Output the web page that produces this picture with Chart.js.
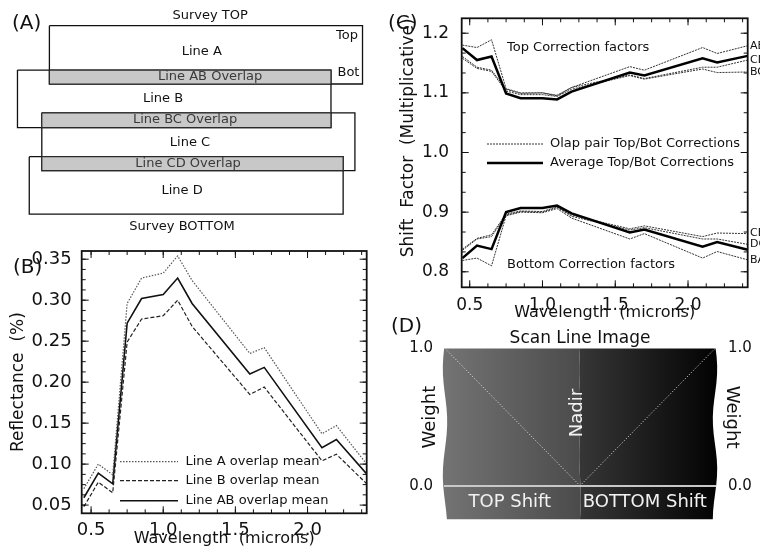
<!DOCTYPE html>
<html><head><meta charset="utf-8">
<script src="https://cdn.jsdelivr.net/npm/chart.js@4.4.1/dist/chart.umd.min.js"></script>
<style>
html,body{margin:0;padding:0;background:#fff;}
body{width:760px;height:552px;position:relative;overflow:hidden;font-family:'DejaVu Sans',sans-serif;}
canvas{position:absolute;}
.plabel{position:absolute;font-size:20px;line-height:20px;color:#111;white-space:nowrap;}
</style></head><body>
<canvas id="cA" width="380" height="240" style="left:0;top:0"></canvas>
<canvas id="cB" width="380" height="312" style="left:0;top:240px"></canvas>
<canvas id="cC" width="380" height="325" style="left:380px;top:0"></canvas>
<canvas id="cD" width="360" height="242" style="left:400px;top:310px"></canvas>
<div class="plabel" style="left:12px;top:12px">(A)</div>
<div class="plabel" style="left:13px;top:256px">(B)</div>
<div class="plabel" style="left:388px;top:12px">(C)</div>
<div class="plabel" style="left:391px;top:315px">(D)</div>
<script>
// ---------- Panel A: flight-line layout (schematic units) ----------
const lineNames  = ['Line A','Line B','Line C','Line D'];
const lineLeft   = [13.0, 4.6, 11.0, 7.7];
const lineRight  = [95.4, 87.1, 93.4, 90.3];
const lineTop    = [10.7, 29.2, 47.0, 65.3];
const lineBottom = [35.0, 53.2, 71.1, 89.2];
const overlapNames = ['Line AB Overlap','Line BC Overlap','Line CD Overlap'];

// ---------- Panel B: reflectance ----------
const wavelengths = [0.45,0.55,0.65,0.75,0.85,1.0,1.1,1.2,1.6,1.7,2.1,2.2,2.41];
const lineAMean  = [0.070,0.100,0.087,0.296,0.327,0.333,0.354,0.324,0.235,0.242,0.137,0.147,0.100];
const lineBMean  = [0.048,0.078,0.065,0.249,0.277,0.281,0.300,0.268,0.185,0.194,0.104,0.112,0.076];
const lineABMean = [0.059,0.089,0.076,0.272,0.302,0.307,0.327,0.296,0.210,0.218,0.120,0.130,0.088];
const waveTicks  = [0.5,1.0,1.5,2.0];
const reflTicks  = [0.05,0.10,0.15,0.20,0.25,0.30,0.35];

// ---------- Panel C: shift factors ----------
const topAvg = [1.175,1.155,1.161,1.099,1.091,1.091,1.089,1.102,1.134,1.129,1.158,1.151,1.162];
const topAB  = [1.180,1.176,1.189,1.107,1.100,1.100,1.095,1.109,1.144,1.138,1.176,1.166,1.179];
const topCD  = [1.161,1.143,1.138,1.106,1.099,1.100,1.096,1.109,1.130,1.124,1.143,1.143,1.155];
const topBC  = [1.158,1.141,1.136,1.103,1.097,1.097,1.094,1.106,1.129,1.123,1.140,1.134,1.135];
const botAvg = [0.823,0.844,0.838,0.900,0.907,0.907,0.911,0.898,0.866,0.871,0.842,0.850,0.837];
const botCB  = [0.838,0.856,0.862,0.897,0.902,0.901,0.909,0.895,0.872,0.877,0.859,0.865,0.864];
const botDC  = [0.836,0.855,0.859,0.895,0.901,0.900,0.908,0.893,0.870,0.874,0.855,0.855,0.846];
const botBA  = [0.819,0.823,0.810,0.894,0.900,0.899,0.906,0.890,0.855,0.864,0.823,0.834,0.820];
const pairNames = ['AB','CD','BC','CB','DC','BA'];
const shiftTicks = [0.8,0.9,1.0,1.1,1.2];

// ---------- Panel D: scan line weights ----------
const scanPos = [0, 0.5, 1];
const weightVals = [1, 0, 1];
const weightTicks = [0, 1];
const stripBottom = -0.245;

Chart.defaults.font.family = "'DejaVu Sans', sans-serif";
Chart.defaults.color = '#111';

function pts(xs, ys){ return xs.map((x,i)=>({x:x, y:ys[i]})); }
function rectPts(l,r,t,b){ return [{x:l,y:t},{x:r,y:t},{x:r,y:b},{x:l,y:b},{x:l,y:t}]; }
function fixTicks(list){ return s => { s.ticks = list.map(v=>({value:v})); }; }

function makeNotes(id, items){
  return { id: id, afterDatasetsDraw(chart){
    const ctx = chart.ctx, xs = chart.scales.x, ys = chart.scales.y;
    items.forEach(it=>{
      ctx.save();
      ctx.font = (it.size||13) + "px 'DejaVu Sans'";
      ctx.fillStyle = it.color || '#111';
      ctx.textAlign = it.align || 'center';
      ctx.textBaseline = 'middle';
      const px = typeof it.px === 'function' ? it.px(chart) : (it.px != null ? it.px : xs.getPixelForValue(it.x));
      const py = typeof it.py === 'function' ? it.py(chart) : (it.py != null ? it.py : ys.getPixelForValue(it.y));
      ctx.translate(px, py);
      if (it.rot) ctx.rotate(it.rot);
      ctx.fillText(it.text, 0, 0);
      ctx.restore();
    });
  }};
}

function makeFrame(id, cfg){
  return { id: id, afterDatasetsDraw(chart){
    const ctx = chart.ctx, a = chart.chartArea, xs = chart.scales.x, ys = chart.scales.y;
    const seg = (x1,y1,x2,y2)=>{ ctx.beginPath(); ctx.moveTo(x1,y1); ctx.lineTo(x2,y2); ctx.stroke(); };
    const steps = (min,max,st)=>{ const out=[]; for(let k=Math.ceil(min/st-1e-9); k*st<=max+1e-9; k++) out.push(k*st); return out; };
    ctx.save(); ctx.strokeStyle = '#111'; ctx.lineWidth = 1;
    const xt = (v,len)=>{ const p = xs.getPixelForValue(v); seg(p,a.bottom,p,a.bottom-len); seg(p,a.top,p,a.top+len); };
    const yt = (v,len)=>{ const p = ys.getPixelForValue(v); seg(a.left,p,a.left+len,p); seg(a.right,p,a.right-len,p); };
    steps(xs.min, xs.max, cfg.xMinor).forEach(v=>xt(v,cfg.minor));
    cfg.xMajor.forEach(v=>xt(v,cfg.major));
    steps(ys.min, ys.max, cfg.yMinor).forEach(v=>yt(v,cfg.minor));
    cfg.yMajor.forEach(v=>yt(v,cfg.major));
    ctx.lineWidth = cfg.width;
    ctx.strokeRect(a.left, a.top, a.right-a.left, a.bottom-a.top);
    ctx.restore();
  }};
}

function makeLegend(id, entries){
  return { id: id, afterDatasetsDraw(chart){
    const ctx = chart.ctx;
    entries.forEach(e=>{
      const ds = chart.data.datasets[e.ds];
      ctx.save();
      ctx.strokeStyle = ds.borderColor; ctx.lineWidth = ds.borderWidth;
      ctx.setLineDash(ds.borderDash || []);
      ctx.beginPath(); ctx.moveTo(e.x0, e.y); ctx.lineTo(e.x1, e.y); ctx.stroke();
      ctx.setLineDash([]);
      ctx.font = (e.size||13) + "px 'DejaVu Sans'";
      ctx.fillStyle = '#111'; ctx.textAlign = 'left'; ctx.textBaseline = 'middle';
      ctx.fillText(e.text || ds.label, e.tx, e.y);
      ctx.restore();
    });
  }};
}

const baseOpts = { responsive:false, animation:false, devicePixelRatio:1, events:[] };

// ================= Panel A =================
(function(){
  const datasets = [];
  for (let i=0;i<lineNames.length-1;i++){
    const l = Math.max(lineLeft[i], lineLeft[i+1]), r = Math.min(lineRight[i], lineRight[i+1]);
    const t = Math.max(lineTop[i], lineTop[i+1]), b = Math.min(lineBottom[i], lineBottom[i+1]);
    datasets.push({ label: overlapNames[i], data: rectPts(l,r,t,b), showLine:true, fill:'shape',
      backgroundColor:'#c8c8c8', borderColor:'#2a2a2a', borderWidth:1.2, pointRadius:0, borderJoinStyle:'miter' });
  }
  lineNames.forEach((n,i)=>{
    datasets.push({ label:n, data: rectPts(lineLeft[i],lineRight[i],lineTop[i],lineBottom[i]), showLine:true, fill:false,
      borderColor:'#111', borderWidth:1.3, pointRadius:0, borderJoinStyle:'miter' });
  });
  const notes = [
    {text:'Survey TOP', x:55.3, y:6.7},
    {text:'Top', x:91.3, y:15},
    {text:'Bot', x:91.7, y:30.4},
    {text:lineNames[0], x:53.1, y:21.5},
    {text:overlapNames[0], x:55.3, y:32, color:'#3a3a3a'},
    {text:lineNames[1], x:42.9, y:41.3},
    {text:overlapNames[1], x:48.7, y:50, color:'#3a3a3a'},
    {text:lineNames[2], x:50.0, y:59.6},
    {text:overlapNames[2], x:49.5, y:68.3, color:'#3a3a3a'},
    {text:lineNames[3], x:47.9, y:79.5},
    {text:'Survey BOTTOM', x:47.9, y:94.5}
  ];
  new Chart(document.getElementById('cA'), {
    type:'scatter',
    data:{datasets:datasets},
    options:Object.assign({}, baseOpts, {
      layout:{padding:0},
      plugins:{legend:{display:false}, tooltip:{enabled:false}},
      scales:{ x:{type:'linear', min:0, max:100, display:false},
               y:{type:'linear', min:0, max:100, reverse:true, display:false} }
    }),
    plugins:[makeNotes('notesA', notes)]
  });
})();

// ================= Panel B =================
(function(){
  new Chart(document.getElementById('cB'), {
    type:'line',
    data:{datasets:[
      {label:'Line A overlap mean', data:pts(wavelengths,lineAMean), borderColor:'#555', borderWidth:1.2, borderDash:[1.5,1.5], pointRadius:0, tension:0},
      {label:'Line B overlap mean', data:pts(wavelengths,lineBMean), borderColor:'#222', borderWidth:1.2, borderDash:[4,2], pointRadius:0, tension:0},
      {label:'Line AB overlap mean', data:pts(wavelengths,lineABMean), borderColor:'#111', borderWidth:1.6, pointRadius:0, tension:0}
    ]},
    options:Object.assign({}, baseOpts, {
      layout:{padding:{top:5, right:13.3, left:0, bottom:0}},
      plugins:{legend:{display:false}, tooltip:{enabled:false}},
      scales:{
        x:{type:'linear', min:0.435, max:2.41, afterBuildTicks:fixTicks(waveTicks),
           ticks:{font:{size:18, lineHeight:1}, padding:0, maxRotation:0, autoSkip:false, callback:v=>v.toFixed(1)},
           grid:{display:false}, border:{display:false},
           title:{display:true, text:'Wavelength  (microns)', font:{size:16}, padding:{top:0,bottom:3.4}},
           afterFit:s=>{s.height=38.7;}},
        y:{type:'linear', min:0.04, max:0.36, afterBuildTicks:fixTicks(reflTicks),
           ticks:{font:{size:18, lineHeight:1}, padding:2, autoSkip:false, callback:v=>v.toFixed(2)},
           grid:{display:false}, border:{display:false},
           title:{display:true, text:'Reflectance  (%)', font:{size:17}, padding:{top:8.8,bottom:0}},
           afterFit:s=>{s.width=81.7;}}
      }
    }),
    plugins:[
      makeFrame('frameB',{xMajor:waveTicks, xMinor:0.125, yMajor:reflTicks, yMinor:0.0125, major:7, minor:4, width:1.8}),
      makeLegend('legB',[
        {ds:0, x0:120, x1:178, tx:185.5, y:221.7},
        {ds:1, x0:120, x1:178, tx:185.5, y:240.7},
        {ds:2, x0:120, x1:178, tx:185.5, y:260.7}
      ])
    ]
  });
})();

// ================= Panel C =================
(function(){
  const thin = (label, vals)=>({label:label, data:pts(wavelengths,vals), borderColor:'#333', borderWidth:1, borderDash:[2,1], pointRadius:0, tension:0});
  const datasets = [
    {label:'Average Top/Bot Corrections', data:pts(wavelengths,topAvg), borderColor:'#000', borderWidth:2.5, pointRadius:0, tension:0},
    {label:'Average Bottom', data:pts(wavelengths,botAvg), borderColor:'#000', borderWidth:2.5, pointRadius:0, tension:0},
    thin(pairNames[0], topAB), thin(pairNames[1], topCD), thin(pairNames[2], topBC),
    thin(pairNames[3], botCB), thin(pairNames[4], botDC), thin(pairNames[5], botBA)
  ];
  const notes = [
    {text:'Top Correction factors', px:127, py:48, align:'left'},
    {text:'Bottom Correction factors', px:127, py:265, align:'left'}
  ];
  for (let k=2;k<8;k++){
    const d = k;
    notes.push({text:datasets[d].label, size:11, align:'left', px:370,
      py:(chart)=>chart.scales.y.getPixelForValue(datasets[d].data[datasets[d].data.length-1].y)});
  }
  new Chart(document.getElementById('cC'), {
    type:'line',
    data:{datasets:datasets},
    options:Object.assign({}, baseOpts, {
      layout:{padding:{top:18.3, right:12.3, left:0, bottom:0}},
      plugins:{legend:{display:false}, tooltip:{enabled:false}},
      scales:{
        x:{type:'linear', min:0.445, max:2.41, afterBuildTicks:fixTicks(waveTicks),
           ticks:{font:{size:17, lineHeight:1}, padding:2.2, maxRotation:0, autoSkip:false, callback:v=>v.toFixed(1)},
           grid:{display:false}, border:{display:false},
           title:{display:true, text:'Wavelength  (microns)', font:{size:16}, padding:{top:0,bottom:2.4}},
           afterFit:s=>{s.height=37.7;}},
        y:{type:'linear', min:0.774, max:1.225, afterBuildTicks:fixTicks(shiftTicks),
           ticks:{font:{size:17, lineHeight:1}, padding:4.7, autoSkip:false, callback:v=>v.toFixed(1)},
           grid:{display:false}, border:{display:false},
           title:{display:true, text:'Shift  Factor  (Multiplicative)', align:'end', font:{size:17}, padding:{top:18.8,bottom:0}},
           afterFit:s=>{s.width=81.7;}}
      }
    }),
    plugins:[
      makeFrame('frameC',{xMajor:waveTicks, xMinor:0.125, yMajor:shiftTicks, yMinor:0.1/3, major:7, minor:4, width:1.8}),
      makeLegend('legC',[
        {ds:2, text:'Olap pair Top/Bot Corrections', x0:107, x1:163, tx:170, y:144},
        {ds:0, text:'Average Top/Bot Corrections', x0:107, x1:163, tx:170, y:163}
      ]),
      makeNotes('notesC', notes)
    ]
  });
})();

// ================= Panel D =================
(function(){
  const scanImage = { id:'scanImage', beforeDraw(chart){
    const ctx = chart.ctx, xs = chart.scales.x, ys = chart.scales.y;
    const x0 = xs.getPixelForValue(scanPos[0]), xm = xs.getPixelForValue(scanPos[1]), x1 = xs.getPixelForValue(scanPos[2]);
    const yT = ys.getPixelForValue(1), yB = ys.getPixelForValue(stripBottom);
    const H = yB - yT;
    // left half
    ctx.save();
    let g = ctx.createLinearGradient(x0,0,xm,0);
    g.addColorStop(0,'#737373'); g.addColorStop(1,'#4b4b4b');
    ctx.fillStyle = g;
    ctx.beginPath();
    ctx.moveTo(x0, yT);
    ctx.lineTo(xm, yT);
    for (let t=0;t<=1.0001;t+=0.05) ctx.lineTo(xm - 0.8*Math.sin(t*Math.PI*4), yT + t*H);
    for (let t=1;t>=-0.0001;t-=0.05) ctx.lineTo(x0 - 2.2*Math.sin(t*Math.PI*3.2+0.4), yT + t*H);
    ctx.closePath(); ctx.fill();
    // right half
    g = ctx.createLinearGradient(xm,0,x1,0);
    g.addColorStop(0,'#363636'); g.addColorStop(1,'#030303');
    ctx.fillStyle = g;
    ctx.beginPath();
    ctx.moveTo(xm, yT);
    ctx.lineTo(x1, yT);
    for (let t=0;t<=1.0001;t+=0.05) ctx.lineTo(x1 + 2.2*Math.sin(t*Math.PI*3.4+0.3), yT + t*H);
    for (let t=1;t>=-0.0001;t-=0.05) ctx.lineTo(xm - 0.8*Math.sin(t*Math.PI*4), yT + t*H);
    ctx.closePath(); ctx.fill();
    ctx.restore();
  }};
  const notes = [
    {text:'Nadir', x:0.49, y:0.53, size:18, color:'#f2f2f2', rot:-Math.PI/2},
    {text:'TOP Shift', x:0.24, y:-0.124, size:18, color:'#f2f2f2'},
    {text:'BOTTOM Shift', x:0.74, y:-0.124, size:18, color:'#f2f2f2'}
  ];
  const yAxis = (pos, pad, tpad)=>({type:'linear', position:pos, min:0, max:1, afterBuildTicks:fixTicks(weightTicks),
    ticks:{font:{size:15, lineHeight:1}, padding:pad, autoSkip:false, callback:v=>v.toFixed(1)},
    grid:{display:false}, border:{display:false},
    title:{display:true, text:'Weight', font:{size:18}, padding:{top:tpad,bottom:0}},
    afterFit:s=>{s.width=45;}});
  new Chart(document.getElementById('cD'), {
    type:'line',
    data:{datasets:[
      {label:'Weight', data:pts(scanPos,weightVals), borderColor:'#e8e8e8', borderWidth:1, borderDash:[1,2], pointRadius:0, tension:0, yAxisID:'y'}
    ]},
    options:Object.assign({}, baseOpts, {
      layout:{padding:0},
      plugins:{legend:{display:false}, tooltip:{enabled:false},
        title:{display:true, text:'Scan Line Image', font:{size:17, weight:'normal'}, color:'#111', padding:{top:18.1,bottom:0}}},
      scales:{
        x:{type:'linear', min:0, max:1, ticks:{display:false}, grid:{display:false},
           border:{display:true, color:'#c8c8c8', width:2}, afterFit:s=>{s.height=66.3;}},
        y:yAxis('left', 4, 19.2),
        y2:yAxis('right', 5, 17.5)
      }
    }),
    plugins:[scanImage, makeNotes('notesD', notes)]
  });
})();
</script>
</body></html>
